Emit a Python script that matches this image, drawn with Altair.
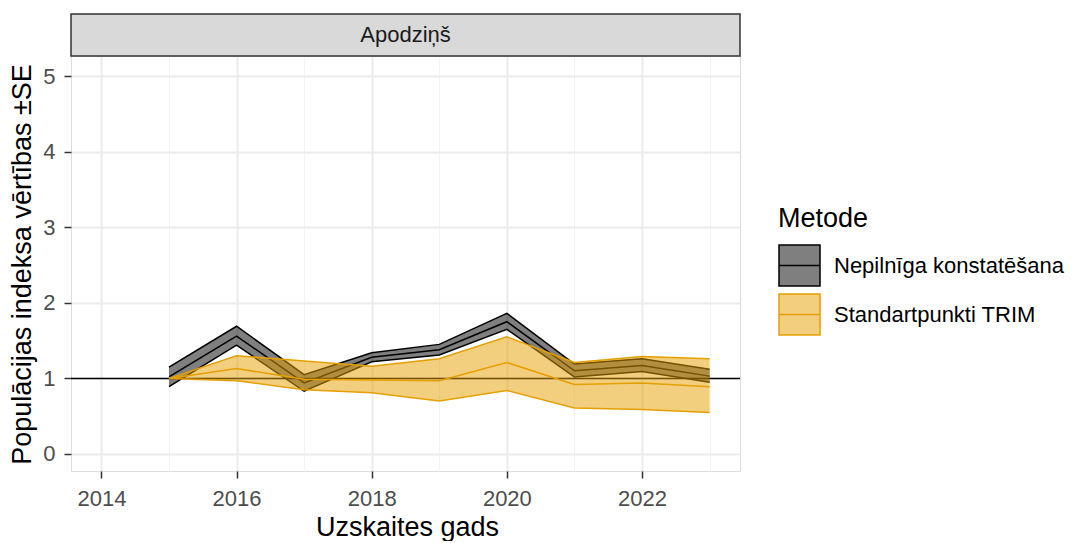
import altair as alt
import pandas as pd

# ---- data ----
species = ["Apodziņš"]
methods = ["Nepilnīga konstatēšana", "Standartpunkti TRIM"]
line_colors = ["#000000", "#E69F00"]
fill_colors = ["rgba(0,0,0,0.5)", "rgba(230,159,0,0.5)"]
years = [2015, 2016, 2017, 2018, 2019, 2020, 2021, 2022, 2023]

nk_center = [1.02, 1.56, 0.94, 1.28, 1.38, 1.75, 1.10, 1.17, 1.03]
nk_lower = [0.89, 1.44, 0.83, 1.22, 1.31, 1.65, 1.02, 1.09, 0.95]
nk_upper = [1.15, 1.69, 1.05, 1.34, 1.45, 1.86, 1.19, 1.26, 1.12]

trim_center = [1.00, 1.13, 0.99, 0.98, 0.97, 1.21, 0.92, 0.94, 0.89]
trim_lower = [1.00, 0.97, 0.85, 0.81, 0.70, 0.84, 0.61, 0.59, 0.55]
trim_upper = [1.00, 1.30, 1.23, 1.16, 1.26, 1.55, 1.21, 1.29, 1.26]

ref_line = [1]
x_ticks = list(range(2014, 2024))
y_ticks = [v / 2 for v in range(0, 11)]

df = pd.DataFrame({
    "year": years * 2,
    "method": [methods[0]] * len(years) + [methods[1]] * len(years),
    "center": nk_center + trim_center,
    "lower": nk_lower + trim_lower,
    "upper": nk_upper + trim_upper,
})

W, H = 669, 415
FONT = "Liberation Sans"

xscale = alt.Scale(domain=[2013.55, 2023.45], nice=False, zero=False)
yscale = alt.Scale(domain=[-0.225, 5.265], nice=False, zero=False)

grid_major_x = "datum.value % 2 == 0"
grid_major_y = "datum.value % 1 == 0"

xaxis = alt.Axis(
    values=x_ticks, format="d",
    labelExpr=f"{grid_major_x} ? datum.label : ''",
    gridColor={"condition": {"test": grid_major_x, "value": "#EBEBEB"}, "value": "#F3F3F3"},
    gridWidth={"condition": {"test": grid_major_x, "value": 2}, "value": 1},
    tickOpacity={"condition": {"test": grid_major_x, "value": 1}, "value": 0},
    domain=False, tickColor="#333333", tickWidth=1.5, tickSize=7,
    labelFont=FONT, labelFontSize=22, labelColor="#4D4D4D", labelPadding=10,
    titleFont=FONT, titleFontSize=27, titleFontWeight="normal", titleColor="#000000",
    titleX=336, titleY=64, titleBaseline="alphabetic", titleAlign="center",
)
yaxis = alt.Axis(
    values=y_ticks, format="d",
    labelExpr=f"{grid_major_y} ? datum.label : ''",
    gridColor={"condition": {"test": grid_major_y, "value": "#EBEBEB"}, "value": "#F3F3F3"},
    gridWidth={"condition": {"test": grid_major_y, "value": 2}, "value": 1},
    tickOpacity={"condition": {"test": grid_major_y, "value": 1}, "value": 0},
    domain=False, tickColor="#333333", tickWidth=1.5, tickSize=7,
    labelFont=FONT, labelFontSize=22, labelColor="#4D4D4D", labelPadding=9,
    titleFont=FONT, titleFontSize=27, titleFontWeight="normal", titleColor="#000000",
    titleX=-41, titleY=208, titleBaseline="alphabetic", titleAlign="center", titleAngle=270,
)

X_TITLE = "Uzskaites gads"
Y_TITLE = "Populācijas indeksa vērtības ±SE"


def xe():
    return alt.X("year:Q", scale=xscale, axis=xaxis, title=X_TITLE)


def ye(field):
    return alt.Y(f"{field}:Q", scale=yscale, axis=yaxis, title=Y_TITLE)


legend = alt.Legend(
    title="Metode", orient="none", legendX=707, legendY=150,
    titleFont=FONT, titleFontSize=27, titleFontWeight="normal", titleColor="#000000",
    titlePadding=11, labelFont=FONT, labelFontSize=22, labelColor="#000000", labelLimit=0,
    labelOffset=13, symbolType="M-1,-1H1V1H-1Z M-1,0H1", symbolSize=1681,
    symbolStrokeWidth=1.5, rowPadding=2, padding=0,
)
fill_enc = alt.Fill("method:N", scale=alt.Scale(domain=methods, range=fill_colors), legend=legend)
stroke_enc = alt.Stroke("method:N", scale=alt.Scale(domain=methods, range=line_colors), legend=legend)

base = alt.Chart(df)

hline = alt.Chart(pd.DataFrame({"y": ref_line})).mark_rule(color="#000000", strokeWidth=1.5).encode(
    x=alt.value(0), x2=alt.value(W), y=ye("y")
)

layers = [hline]
for m in methods:
    sub = base.transform_filter(alt.datum.method == m)
    area = sub.mark_area(fillOpacity=1).encode(x=xe(), y=ye("lower"), y2="upper:Q", fill=fill_enc)
    lines = sub.transform_fold(["lower", "center", "upper"], as_=["kind", "val"]).mark_line(
        strokeWidth=1.5
    ).encode(x=xe(), y=ye("val"), detail="kind:N", stroke=stroke_enc)
    layers += [area, lines]

strip_df = pd.DataFrame({"species": species})
strip_rect = alt.Chart(strip_df).mark_rect(fill="#D9D9D9", stroke="#333333", strokeWidth=1.5).encode(
    x=alt.value(0), x2=alt.value(W), y=alt.value(-42), y2=alt.value(0)
)
strip_text = alt.Chart(strip_df).mark_text(
    font=FONT, fontSize=22, color="#1A1A1A", baseline="middle", align="center"
).encode(x=alt.value(W / 2), y=alt.value(-21), text="species:N")

layers += [strip_rect, strip_text]

chart = alt.layer(*layers).properties(
    width=W, height=H,
    autosize=alt.AutoSizeParams(type="none"),
    padding={"left": 63, "top": 48, "right": 334, "bottom": 70},
).configure_view(stroke="#333333", strokeWidth=1.5).configure(font=FONT)

chart.save("out.html", embed_options={"renderer": "svg", "actions": False})
